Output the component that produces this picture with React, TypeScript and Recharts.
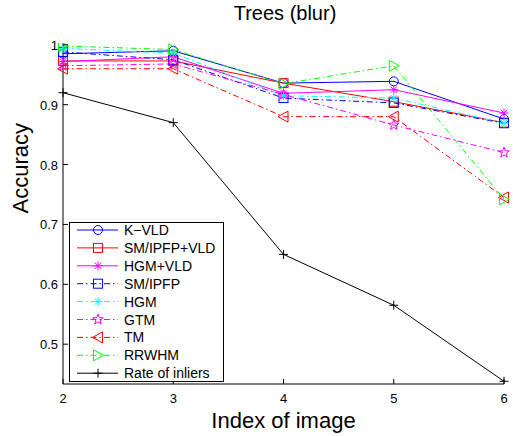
import React from "react";
import { LineChart, Line, XAxis, YAxis, Legend } from "recharts";

// Image indices along the x axis
const imageIndex = [2, 3, 4, 5, 6];

// Accuracy per method
const kvld = [0.985, 0.99, 0.936, 0.939, 0.876];
const smIpfpVld = [0.973, 0.973, 0.936, 0.905, 0.87];
const hgmVld = [0.972, 0.98, 0.919, 0.925, 0.886];
const smIpfp = [0.988, 0.975, 0.911, 0.903, 0.869];
const hgm = [0.994, 0.986, 0.915, 0.911, 0.869];
const gtm = [0.965, 0.968, 0.917, 0.866, 0.82];
const tm = [0.96, 0.96, 0.88, 0.88, 0.745];
const rrwhm = [0.998, 0.992, 0.935, 0.965, 0.742];
const inlierRate = [0.92, 0.87, 0.65, 0.565, 0.438];

const yTicks = [0.5, 0.6, 0.7, 0.8, 0.9, 1];
const xTicks = [2, 3, 4, 5, 6];

type Marker = "circle" | "square" | "asterisk" | "pentagram" | "left" | "right" | "plus";

interface SeriesDef {
  key: string;
  name: string;
  values: number[];
  color: string;
  dashed: boolean;
  marker: Marker;
}

const series: SeriesDef[] = [
  { key: "kvld", name: "K\u2212VLD", values: kvld, color: "#0000ff", dashed: false, marker: "circle" },
  { key: "smIpfpVld", name: "SM/IPFP+VLD", values: smIpfpVld, color: "#ff0000", dashed: false, marker: "square" },
  { key: "hgmVld", name: "HGM+VLD", values: hgmVld, color: "#ff00ff", dashed: false, marker: "asterisk" },
  { key: "smIpfp", name: "SM/IPFP", values: smIpfp, color: "#0000ff", dashed: true, marker: "square" },
  { key: "hgm", name: "HGM", values: hgm, color: "#00ffff", dashed: true, marker: "asterisk" },
  { key: "gtm", name: "GTM", values: gtm, color: "#ff00ff", dashed: true, marker: "pentagram" },
  { key: "tm", name: "TM", values: tm, color: "#ff0000", dashed: true, marker: "left" },
  { key: "rrwhm", name: "RRWHM", values: rrwhm, color: "#00ff00", dashed: true, marker: "right" },
  { key: "inliers", name: "Rate of inliers", values: inlierRate, color: "#000000", dashed: false, marker: "plus" },
];

const data = imageIndex.map((x, i) => {
  const row: Record<string, number> = { x };
  series.forEach((s) => {
    row[s.key] = s.values[i];
  });
  return row;
});

const FONT = "'Liberation Sans', Arial, Helvetica, sans-serif";
const DASH = "6 3 1.5 3";

function markerShape(kind: Marker, cx: number, cy: number, color: string, key?: string) {
  const common = { stroke: color, strokeWidth: 1, fill: "none" };
  switch (kind) {
    case "circle":
      return <circle key={key} cx={cx} cy={cy} r={4.5} {...common} />;
    case "square":
      return <rect key={key} x={cx - 4.5} y={cy - 4.5} width={9} height={9} {...common} />;
    case "asterisk":
      return (
        <g key={key} {...common}>
          <line x1={cx - 4.5} y1={cy} x2={cx + 4.5} y2={cy} />
          <line x1={cx} y1={cy - 4.5} x2={cx} y2={cy + 4.5} />
          <line x1={cx - 3.2} y1={cy - 3.2} x2={cx + 3.2} y2={cy + 3.2} />
          <line x1={cx - 3.2} y1={cy + 3.2} x2={cx + 3.2} y2={cy - 3.2} />
        </g>
      );
    case "pentagram": {
      const pts: string[] = [];
      for (let i = 0; i < 10; i++) {
        const r = i % 2 === 0 ? 5.5 : 2.3;
        const a = -Math.PI / 2 + (i * Math.PI) / 5;
        pts.push(`${cx + r * Math.cos(a)},${cy + r * Math.sin(a)}`);
      }
      return <polygon key={key} points={pts.join(" ")} {...common} />;
    }
    case "left":
      return <polygon key={key} points={`${cx - 5.5},${cy} ${cx + 4.5},${cy - 5.5} ${cx + 4.5},${cy + 5.5}`} {...common} />;
    case "right":
      return <polygon key={key} points={`${cx + 5.5},${cy} ${cx - 4.5},${cy - 5.5} ${cx - 4.5},${cy + 5.5}`} {...common} />;
    case "plus":
    default:
      return (
        <g key={key} {...common}>
          <line x1={cx - 4.5} y1={cy} x2={cx + 4.5} y2={cy} />
          <line x1={cx} y1={cy - 4.5} x2={cx} y2={cy + 4.5} />
        </g>
      );
  }
}

const XTick = (props: any) => {
  const { x, y, payload } = props;
  return (
    <g>
      <line x1={x} y1={y} x2={x} y2={y - 5} stroke="#000" strokeWidth={1} />
      <text x={x} y={y + 19} textAnchor="middle" fontSize={13} fontFamily={FONT} fill="#000">
        {payload.value}
      </text>
    </g>
  );
};

const YTick = (props: any) => {
  const { x, y, payload } = props;
  return (
    <g>
      <line x1={x} y1={y} x2={x + 5} y2={y} stroke="#000" strokeWidth={1} />
      <text x={x - 5} y={y + 5} textAnchor="end" fontSize={13} fontFamily={FONT} fill="#000">
        {String(payload.value)}
      </text>
    </g>
  );
};

const LegendBox = () => {
  const rowH = 17.9;
  return (
    <svg width={156} height={161} style={{ display: "block" }}>
      <rect x={0.5} y={0.5} width={154} height={159} fill="#fff" stroke="#000" strokeWidth={1} />
      {series.map((s, i) => {
        const cy = 8 + i * rowH;
        return (
          <g key={s.key}>
            <line
              x1={8}
              y1={cy}
              x2={49}
              y2={cy}
              stroke={s.color}
              strokeWidth={1}
              strokeDasharray={s.dashed ? DASH : undefined}
            />
            {markerShape(s.marker, 29, cy, s.color)}
            <text x={55} y={cy + 5} fontSize={14} fontFamily={FONT} fill="#000">
              {s.name}
            </text>
          </g>
        );
      })}
    </svg>
  );
};

export default function App() {
  return (
    <div style={{ position: "absolute", left: 0, top: 0, width: 513, height: 436, background: "#fff" }}>
      <div
        style={{
          position: "absolute",
          left: 0,
          top: 2,
          width: 570,
          textAlign: "center",
          fontFamily: FONT,
          fontSize: 20,
          color: "#000",
        }}
      >
        Trees (blur)
      </div>
      <LineChart
        width={513}
        height={436}
        data={data}
        margin={{ top: 43, right: 9, bottom: 0, left: 0 }}
      >
        <XAxis
          dataKey="x"
          type="number"
          domain={[2, 6]}
          ticks={xTicks}
          tickSize={0}
          tickMargin={0}
          tickLine={false}
          tick={<XTick />}
          height={52}
          stroke="#000"
          label={{
            value: "Index of image",
            position: "insideBottom",
            offset: 8,
            fontSize: 22,
            fontFamily: FONT,
            fill: "#000",
          }}
        />
        <YAxis
          type="number"
          domain={[0.4335, 1.003]}
          allowDataOverflow
          ticks={yTicks}
          tickSize={0}
          tickMargin={0}
          tickLine={false}
          tick={<YTick />}
          width={63}
          stroke="#000"
          label={{
            value: "Accuracy",
            angle: -90,
            position: "insideLeft",
            offset: 20,
            fontSize: 22,
            fontFamily: FONT,
            fill: "#000",
          }}
        />
        {series.map((s) => (
          <Line
            key={s.key}
            dataKey={s.key}
            name={s.name}
            type="linear"
            stroke={s.color}
            strokeWidth={1}
            strokeDasharray={s.dashed ? DASH : undefined}
            isAnimationActive={false}
            dot={(p: any) => markerShape(s.marker, p.cx, p.cy, s.color, `${s.key}-${p.index}`)}
            activeDot={false}
          />
        ))}
        <Legend
          layout="vertical"
          align="center"
          verticalAlign="middle"
          content={<LegendBox />}
          wrapperStyle={{ position: "absolute", left: 69, top: 222, width: 156, height: 161 }}
        />
      </LineChart>
    </div>
  );
}
